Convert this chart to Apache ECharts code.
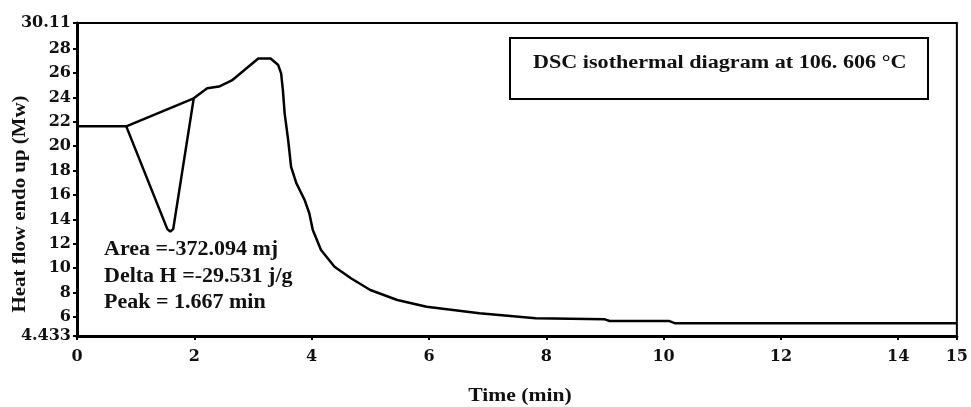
<!DOCTYPE html>
<html>
<head>
<meta charset="utf-8">
<script src="https://cdn.jsdelivr.net/npm/echarts@6/dist/echarts.min.js"></script>
<style>
  html, body { margin: 0; padding: 0; background: #fff; }
  #chart { width: 971px; height: 407px; }
</style>
</head>
<body>
<div id="chart"></div>
<script>
// DSC isothermal trace: time (min) vs heat flow (endo up)
const time = [0, 0.84, 1.54, 1.59, 1.64, 1.99, 2.22, 2.42, 2.64, 3.09, 3.3, 3.43, 3.48, 3.51, 3.54, 3.6, 3.65, 3.74, 3.88, 3.96, 4.02, 4.16, 4.39, 4.67, 5.0, 5.46, 5.96, 6.86, 7.82, 9.0, 9.08, 10.1, 10.2, 15];
const heatFlow = [21.63, 21.63, 13.2, 13.0, 13.2, 23.93, 24.75, 24.9, 25.4, 27.2, 27.2, 26.66, 25.98, 24.6, 22.7, 20.5, 18.3, 16.96, 15.6, 14.5, 13.13, 11.49, 10.12, 9.17, 8.21, 7.39, 6.84, 6.3, 5.89, 5.8, 5.66, 5.66, 5.47, 5.47];

// integration baseline under the peak
const baseTime = [0.84, 1.99];
const baseFlow = [21.63, 23.93];

const xTicks = [0, 2, 4, 6, 8, 10, 12, 14, 15];
const yTicks = [4.433, 6, 8, 10, 12, 14, 16, 18, 20, 22, 24, 26, 28, 30.11];

const xName = 'Time (min)';
const yName = 'Heat flow endo up (Mw)';
const notes = ['Area =-372.094 mj', 'Delta H =-29.531 j/g', 'Peak = 1.667 min'];
const boxTitle = 'DSC isothermal diagram at 106. 606 °C';

const serif = '"Liberation Serif", "DejaVu Serif", serif';
const wideSerif = '"DejaVu Serif", serif';

const chart = echarts.init(document.getElementById('chart'));

const noteGraphics = notes.map((line, i) => ({
  type: 'text', x: 104, y: 250 + i * 26.5, scaleX: 1.1,
  style: { text: line, font: 'bold 20px ' + serif, fill: '#111', align: 'left', verticalAlign: 'middle' }
}));

chart.setOption({
  animation: false,
  backgroundColor: '#fff',
  grid: {
    left: 77, top: 23, right: 7, bottom: 71,
    show: true, borderColor: '#000', borderWidth: 2, backgroundColor: 'transparent'
  },
  xAxis: {
    type: 'value', min: 0, max: 15,
    axisLine: { show: true, lineStyle: { color: '#000', width: 3 } },
    axisTick: { show: true, customValues: xTicks, length: 4, lineStyle: { color: '#000', width: 2 } },
    axisLabel: { customValues: xTicks, margin: 13, fontFamily: wideSerif, fontWeight: 'bold', fontSize: 16, color: '#111' },
    splitLine: { show: false }
  },
  yAxis: {
    type: 'value', min: 4.433, max: 30.11,
    axisLine: { show: true, lineStyle: { color: '#000', width: 3 } },
    axisTick: { show: true, customValues: yTicks, length: 4, lineStyle: { color: '#000', width: 2 } },
    axisLabel: { customValues: yTicks, margin: 6, fontFamily: wideSerif, fontWeight: 'bold', fontSize: 16, color: '#111',
      formatter: v => String(v) },
    splitLine: { show: false }
  },
  series: [
    {
      type: 'line', symbol: 'none',
      data: time.map((t, i) => [t, heatFlow[i]]),
      lineStyle: { color: '#000', width: 2.5 }
    },
    {
      type: 'line', symbol: 'none',
      data: baseTime.map((t, i) => [t, baseFlow[i]]),
      lineStyle: { color: '#000', width: 2.5 }
    }
  ],
  graphic: [
    {
      type: 'rect', x: 510, y: 38,
      shape: { width: 418, height: 61 },
      style: { fill: '#fff', stroke: '#000', lineWidth: 2 }
    },
    {
      type: 'text', x: 533, y: 63, scaleX: 1.23,
      style: { text: boxTitle, font: 'bold 18px ' + serif, fill: '#111', align: 'left', verticalAlign: 'middle' }
    },
    ...noteGraphics,
    {
      type: 'text', x: 520, y: 396, scaleX: 1.2,
      style: { text: xName, font: 'bold 18px ' + serif, fill: '#111', align: 'center', verticalAlign: 'middle' }
    },
    {
      type: 'text', x: 20, y: 204, rotation: Math.PI / 2, scaleX: 1.16,
      style: { text: yName, font: 'bold 18px ' + serif, fill: '#111', align: 'center', verticalAlign: 'middle' }
    }
  ]
});
</script>
</body>
</html>
